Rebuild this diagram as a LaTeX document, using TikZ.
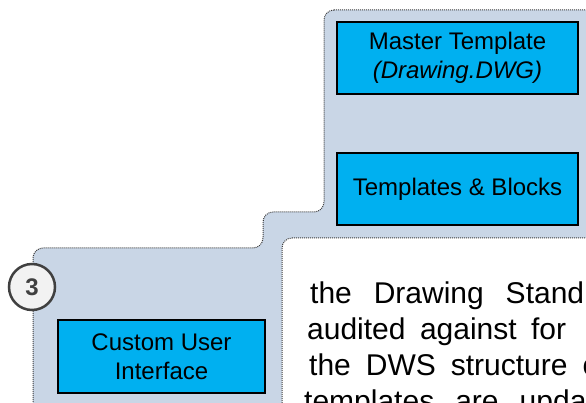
\documentclass[tikz,border=0pt]{standalone}
\usepackage{fontspec}
\setmainfont{Liberation Sans}
\usetikzlibrary{positioning}

\definecolor{panelbg}{RGB}{201,214,230}
\definecolor{boxcyan}{RGB}{0,176,240}
\definecolor{dotline}{RGB}{60,60,60}
\definecolor{badgefill}{RGB}{242,242,242}
\definecolor{badgeline}{RGB}{64,64,64}

\begin{document}
\begin{tikzpicture}[x=1pt,y=-1pt,
  tool/.style={rectangle,draw=black,line width=2.2pt,fill=boxcyan,align=center,inner sep=0pt,font=\fontsize{24}{29.5}\selectfont},
  area/.style={draw=dotline,densely dotted,line width=1pt,rounded corners=10pt},
  badge/.style={circle,draw=badgeline,line width=2.5pt,fill=badgefill,minimum size=46pt,inner sep=0pt,text=badgeline,font=\fontsize{24}{24}\selectfont\bfseries},
  bodyline/.style={anchor=base west,inner sep=0pt,font=\fontsize{30}{36}\selectfont},
]
\useasboundingbox (0,0) rectangle (586,403);
\clip (0,0) rectangle (586,403);

% Shaded tool area
\path[area,fill=panelbg] (324,10) -- (620,10) -- (620,430) -- (33,430) -- (33,248)
  -- (263,248) -- (263,212) -- (324,212) -- cycle;

% Text panel on top
\path[area,fill=white] (282,238) -- (620,238) -- (620,430) -- (282,430) -- cycle;

% Tool boxes
\node[tool,minimum width=241pt,minimum height=72pt] (master) at (457.5,58) {Master Template\\\textit{(Drawing.DWG)}};
\node[tool,minimum width=241pt,minimum height=72pt] (blocks) at (457.5,189) {Templates \& Blocks};
\node[tool,minimum width=207pt,minimum height=73pt] (cui) at (161.5,356.5) {Custom User\\Interface};

% Step number
\node[badge] (stepthree) at (32,287) {3};

% Body text
\node[bodyline] (line1) at (310,303) {\hbox to 274pt{the\hfill Drawing\hfill Stand}};
\node[bodyline] (line2) at (307,339) {\hbox to 259pt{audited\hfill against\hfill for}};
\node[bodyline] (line3) at (309,375) {\hbox to 290pt{the\hfill DWS\hfill structure\hfill o}};
\node[bodyline] (line4) at (304,411) {\hbox to 324pt{templates\hfill are\hfill updated}};
\end{tikzpicture}
\end{document}
